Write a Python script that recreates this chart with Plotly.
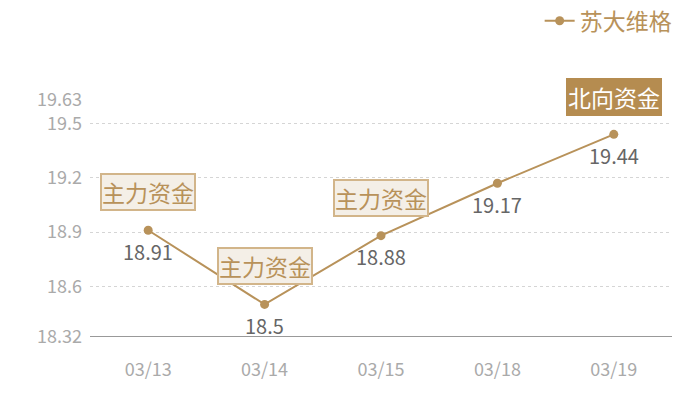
import plotly.graph_objects as go

dates = ["03/13", "03/14", "03/15", "03/18", "03/19"]
prices = [18.91, 18.5, 18.88, 19.17, 19.44]
series_name = "苏大维格"
tick_vals = [18.32, 18.6, 18.9, 19.2, 19.5, 19.63]
tick_text = ["18.32", "18.6", "18.9", "19.2", "19.5", "19.63"]
tags = [("03/13", 18.91, "主力资金"), ("03/14", 18.5, "主力资金"),
        ("03/15", 18.88, "主力资金")]
north_tags = [("03/19", 19.44, "北向资金")]

gold = "#b8925a"
font_family = "Noto Sans CJK SC, Noto Sans, sans-serif"

fig = go.Figure()
fig.add_trace(go.Scatter(
    x=dates, y=prices, name=series_name, mode="lines+markers",
    line=dict(color=gold, width=2),
    marker=dict(color=gold, size=9),
    hoverinfo="skip",
))

annotations = []
for d, v in zip(dates, prices):
    annotations.append(dict(
        x=d, y=v, xref="x", yref="y", text=str(v), showarrow=False,
        yshift=-21, font=dict(size=20, color="#666666", family=font_family),
    ))
for d, v, t in tags:
    annotations.append(dict(
        x=d, y=v, xref="x", yref="y", text=t, showarrow=False,
        yshift=38, font=dict(size=23, color=gold, family=font_family),
        bgcolor="#f4efe7", bordercolor="#d2b58a", borderwidth=2, borderpad=0,
    ))
for d, v, t in north_tags:
    annotations.append(dict(
        x=d, y=v, xref="x", yref="y", text=t, showarrow=False,
        yshift=37, font=dict(size=23, color="#ffffff", family=font_family),
        bgcolor="#b58c50", bordercolor="#b58c50", borderwidth=2, borderpad=0,
    ))

fig.update_layout(
    width=700, height=400,
    margin=dict(l=82, r=36, t=92, b=71, autoexpand=False),
    paper_bgcolor="white", plot_bgcolor="white",
    font=dict(family=font_family),
    showlegend=True,
    legend=dict(orientation="h", x=1.008, xanchor="right", y=1.425, yanchor="top",
                font=dict(size=23, color=gold, family=font_family),
                itemwidth=30, bgcolor="rgba(0,0,0,0)"),
    annotations=annotations,
    xaxis=dict(
        type="category", range=[-0.5, 4.5], showgrid=False, zeroline=False,
        showline=False, ticks="",
        tickfont=dict(size=18, color="#aaaaaa", family=font_family),
        ticklabelstandoff=20,
    ),
    yaxis=dict(
        range=[18.32, 19.63], tickvals=tick_vals, ticktext=tick_text,
        showgrid=True, gridcolor="#d5d5d5", griddash="dot", gridwidth=1,
        zeroline=False, showline=False, ticks="",
        tickfont=dict(size=18, color="#aaaaaa", family=font_family),
        ticklabelstandoff=7,
    ),
    shapes=[dict(type="line", xref="paper", yref="y", x0=0, x1=1,
                 y0=18.32, y1=18.32, line=dict(color="#333333", width=1), layer="above")],
)

fig.write_html("out.html")
